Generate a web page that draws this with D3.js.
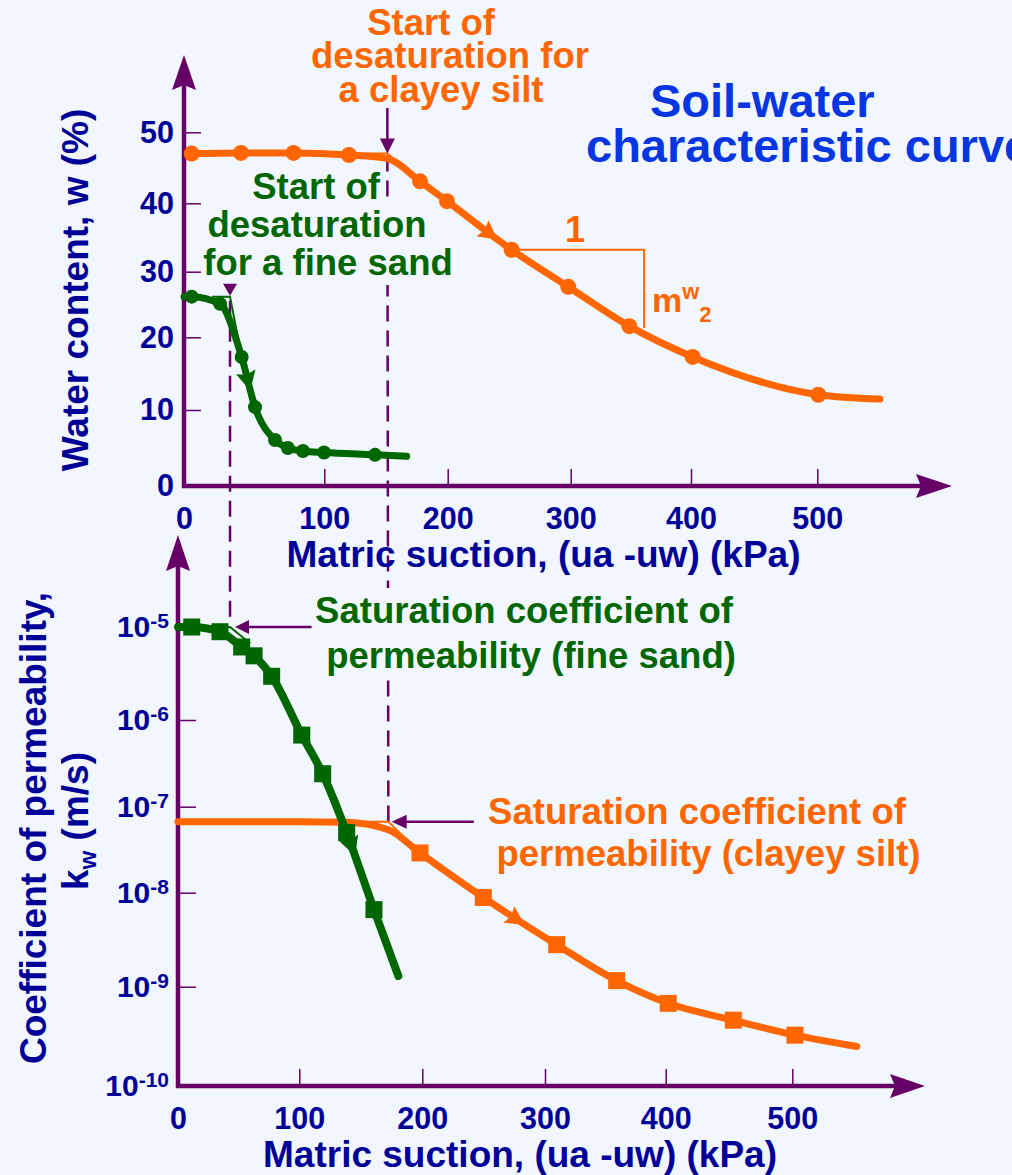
<!DOCTYPE html>
<html><head><meta charset="utf-8">
<script src="https://cdn.jsdelivr.net/npm/d3@7"></script>
<style>
html,body{margin:0;padding:0;background:#f2f6fe;}
svg{display:block;font-family:"Liberation Sans",Arial,Helvetica,sans-serif;font-weight:bold;}
</style></head><body>
<svg id="chart" width="1012" height="1175"></svg>
<script>
// ---------------- DATA ----------------
const suctionTicks = [0, 100, 200, 300, 400, 500];
const waterTicks = [0, 10, 20, 30, 40, 50];
const permExponents = [-10, -9, -8, -7, -6, -5];

// Soil-water characteristic curve, clayey silt (markers)
const siltSuction = [5.5, 40.6, 78.1, 120, 177.6, 199.4, 252, 298, 348.7, 401.3, 500.8];
const siltWater   = [47.0, 47.1, 47.1, 46.8, 43.1, 40.3, 33.2, 27.7, 21.7, 17.3, 12.1];
// clayey silt curve (line)
const siltCurveSuction = [5.5, 40.6, 78.1, 120, 151.1, 177.6, 199.4, 252, 298, 348.7, 401.3, 500.8, 549.6];
const siltCurveWater   = [47.0, 47.1, 47.1, 46.8, 46.3, 43.1, 40.3, 33.2, 27.7, 21.7, 17.3, 12.1, 11.5];

// Soil-water characteristic curve, fine sand (markers)
const sandSuction = [5.5, 25.7, 41.1, 50.6, 64.9, 74.1, 84.8, 99.8, 141.1];
const sandWater   = [26.2, 25.1, 17.3, 10.4, 6.05, 5.0, 4.6, 4.4, 4.1];
const sandCurveSuction = [0, 5.5, 25.7, 41.1, 50.6, 64.9, 74.1, 84.8, 99.8, 141.1, 166.8];
const sandCurveWater   = [26.2, 26.2, 25.1, 17.3, 10.4, 6.05, 5.0, 4.6, 4.4, 4.1, 3.9];

// Permeability, fine sand (markers)
const sandPermSuction = [11.3, 34.6, 52.5, 62.7, 77.2, 102, 119, 138.5, 160.7];
const sandPermK       = [1.0e-5, 8.9e-6, 6.1e-6, 4.9e-6, 2.95e-6, 6.7e-7, 2.4e-7, 5.0e-8, 6.6e-9];
const sandPermCurveSuction = [0, 11.3, 34.6, 52.5, 62.7, 77.2, 102, 119, 138.5, 160.7, 180.5];
const sandPermCurveK       = [1.0e-5, 1.0e-5, 8.9e-6, 6.1e-6, 4.9e-6, 2.95e-6, 6.7e-7, 2.4e-7, 5.0e-8, 6.6e-9, 1.3e-9];

// Permeability, clayey silt (markers)
const siltPermSuction = [198.1, 249.7, 309.7, 359.4, 402, 453.4, 502.1];
const siltPermK       = [2.9e-8, 8.9e-9, 2.8e-9, 1.16e-9, 6.8e-10, 4.6e-10, 3.25e-10];
const siltPermCurveSuction = [0, 100, 138.5, 172.4, 198.1, 249.7, 309.7, 359.4, 402, 453.4, 502.1, 550.9];
const siltPermCurveK       = [6.7e-8, 6.7e-8, 6.6e-8, 5.4e-8, 2.9e-8, 8.9e-9, 2.8e-9, 1.16e-9, 6.8e-10, 4.6e-10, 3.25e-10, 2.5e-10];

// Desaturation (air-entry) points
const aevTop = {sand: 32.8, silt: 151.1};      // kPa on upper plot
const satWater = {sand: 26.2, silt: 47.0};     // %
const aevBottom = {sand: 42.9, silt: 172.4};   // kPa on lower plot
const satK = {sand: 1.0e-5, silt: 6.7e-8};     // m/s
// bilinear construction lines [suction, value]
const siltWaterBilinear = [[120, 47.0], [151.1, 47.0], [177.6, 43.1]];
const sandWaterBilinear = [[20, 26.2], [32.8, 26.2], [41.1, 17.3]];
const sandPermBilinear  = [[34.6, 1.0e-5], [42.9, 1.0e-5], [59.4, 6.7e-6]];
const siltPermBilinear  = [[138.5, 6.7e-8], [172.4, 6.7e-8], [198.1, 2.9e-8]];
// slope triangle (suction from, suction to, upper w, lower w)
const slopeTriangle = [252, 361, 33.2, 21.4];
// direction arrows on curves (suction)
const dirArrowSuction = {siltW: 234.4, sandW: 45.6, sandK: 142.8, siltK: 277};
// pointer arrows on lower plot (tail suction, tip suction)
const sandPointer = [110, 47];
const siltPointer = [242, 175.1];

// ---------------- SETUP ----------------
const W = 1012, H = 1175;
const BG = '#f2f6fe', PURPLE = '#660066', ORANGE = '#ff6600', GREEN = '#006600', NAVY = '#000099', BLUE = '#0636e2';
const svg = d3.select('#chart');
svg.append('rect').attr('width', W).attr('height', H).attr('fill', BG);

const xTop = d3.scaleLinear().domain(suctionTicks).range([184, 324.3, 447.7, 570.7, 691, 817.3]);
const yTop = d3.scaleLinear().domain(waterTicks).range([486, 410, 337.3, 271.7, 203.3, 132.3]);
const xBot = d3.scaleLinear().domain(suctionTicks).range([178, 299.3, 422.3, 545, 665.7, 792.3]);
const yBot = d3.scaleLog().domain(permExponents.map(e => Math.pow(10, e))).range([1086, 986.7, 892.7, 806.7, 720, 627]);

const gDash = svg.append('g');
const gMask = svg.append('g');
const gAxes = svg.append('g');
const gThin = svg.append('g');
const gData = svg.append('g');
const gAnn = svg.append('g');
const gText = svg.append('g');

// ---------------- DASHED LINES ----------------
function dashed(x1, y1, x2, y2) {
  gDash.append('line').attr('x1', x1).attr('y1', y1).attr('x2', x2).attr('y2', y2)
    .attr('stroke', PURPLE).attr('stroke-width', 2.5).attr('stroke-dasharray', '16,9');
}
dashed(xTop(aevTop.sand), yTop(satWater.sand) + 4, xBot(aevBottom.sand), yBot(satK.sand) - 3);
dashed(xTop(aevTop.silt), yTop(satWater.silt) + 2, xBot(aevBottom.silt), yBot(satK.silt));

// ---------------- AXES ----------------
function arrowHead(g, tipX, tipY, angleDeg, len, halfW, notch) {
  g.append('path')
    .attr('d', `M0,0L${-len},${-halfW}L${-len + notch},0L${-len},${halfW}Z`)
    .attr('transform', `translate(${tipX},${tipY}) rotate(${angleDeg})`)
    .attr('fill', PURPLE);
}
function axisLine(x1, y1, x2, y2) {
  gAxes.append('line').attr('x1', x1).attr('y1', y1).attr('x2', x2).attr('y2', y2)
    .attr('stroke', PURPLE).attr('stroke-width', 4.5);
}
function styleAxis(g, size) {
  g.select('.domain').remove();
  g.attr('font-family', null).attr('font-size', null);
  g.selectAll('.tick line').attr('stroke', PURPLE).attr('stroke-width', 1.5);
  g.selectAll('.tick text').attr('fill', NAVY).attr('font-size', size).attr('font-weight', 'bold');
}

// upper plot
const topYAxis = gAxes.append('g').attr('transform', `translate(${xTop(0)},0)`)
  .call(d3.axisLeft(yTop).tickValues(waterTicks).tickSizeInner(-17).tickSizeOuter(0).tickPadding(10).tickFormat(d3.format('d')));
styleAxis(topYAxis, 30.5);
const topXAxis = gAxes.append('g').attr('transform', `translate(0,${yTop(0)})`)
  .call(d3.axisBottom(xTop).tickValues(suctionTicks).tickSizeInner(-17).tickSizeOuter(0).tickPadding(21).tickFormat(d3.format('d')));
styleAxis(topXAxis, 30.5);
axisLine(xTop(0), yTop(0) + 2, xTop(0), 80);
axisLine(xTop(0) - 2, yTop(0), 925, yTop(0));
arrowHead(gAxes, xTop(0), 55, -90, 35, 12, 5);
arrowHead(gAxes, 952, yTop(0), 0, 36, 12, 5);

// lower plot
const botYAxis = gAxes.append('g').attr('transform', `translate(${xBot(0)},0)`)
  .call(d3.axisLeft(yBot).tickValues(permExponents.map(e => Math.pow(10, e))).tickSizeInner(-18).tickSizeOuter(0).tickPadding(9).tickFormat(() => ''));
styleAxis(botYAxis, 30);
botYAxis.selectAll('.tick text').each(function (d) {
  const t = d3.select(this);
  t.text(null);
  t.append('tspan').text('10');
  t.append('tspan').attr('font-size', 21).attr('dy', -9).text(String(Math.round(Math.log10(d))));
});
const botXAxis = gAxes.append('g').attr('transform', `translate(0,${yBot(1e-10)})`)
  .call(d3.axisBottom(xBot).tickValues(suctionTicks).tickSizeInner(-17).tickSizeOuter(0).tickPadding(21).tickFormat(d3.format('d')));
styleAxis(botXAxis, 30.5);
axisLine(xBot(0), yBot(1e-10) + 2, xBot(0), 560);
axisLine(xBot(0) - 2, yBot(1e-10), 898, yBot(1e-10));
arrowHead(gAxes, xBot(0), 535, -90, 36, 12, 5);
arrowHead(gAxes, 925, yBot(1e-10), 0, 35, 12, 5);

// ---------------- THIN CONSTRUCTION LINES ----------------
function thin(pts, xs, ys, color) {
  gThin.append('path').attr('d', d3.line().x(d => xs(d[0])).y(d => ys(d[1]))(pts))
    .attr('fill', 'none').attr('stroke', color).attr('stroke-width', 2);
}
thin(siltWaterBilinear, xTop, yTop, ORANGE);
thin(sandWaterBilinear, xTop, yTop, GREEN);
thin(sandPermBilinear, xBot, yBot, GREEN);
thin(siltPermBilinear, xBot, yBot, ORANGE);
// slope triangle
gThin.append('path')
  .attr('d', `M${xTop(slopeTriangle[0])},${yTop(slopeTriangle[2])}H${xTop(slopeTriangle[1])}V${yTop(slopeTriangle[3])}`)
  .attr('fill', 'none').attr('stroke', ORANGE).attr('stroke-width', 2);

// ---------------- DATA CURVES ----------------
function curve(sx, sy, xs, ys, color, width) {
  const pts = sx.map((s, i) => [s, sy[i]]);
  return gData.append('path')
    .attr('d', d3.line().x(d => xs(d[0])).y(d => ys(d[1])).curve(d3.curveMonotoneX)(pts))
    .attr('fill', 'none').attr('stroke', color).attr('stroke-width', width)
    .attr('stroke-linecap', 'round').attr('stroke-linejoin', 'round');
}
function dirArrow(path, xPix, color, len, w) {
  const node = path.node(); const L = node.getTotalLength();
  let lo = 0, hi = L;
  for (let i = 0; i < 50; i++) { const m = (lo + hi) / 2; if (node.getPointAtLength(m).x < xPix) lo = m; else hi = m; }
  const p = node.getPointAtLength(lo), q = node.getPointAtLength(Math.min(L, lo + 4)), r = node.getPointAtLength(Math.max(0, lo - 4));
  const a = Math.atan2(q.y - r.y, q.x - r.x) * 180 / Math.PI;
  gData.append('path').attr('d', `M${len / 2},0L${-len / 2},${-w / 2}L${-len / 2 + 3},0L${-len / 2},${w / 2}Z`)
    .attr('transform', `translate(${p.x},${p.y}) rotate(${a})`).attr('fill', color);
}
const pSiltW = curve(siltCurveSuction, siltCurveWater, xTop, yTop, ORANGE, 7);
const pSandW = curve(sandCurveSuction, sandCurveWater, xTop, yTop, GREEN, 7);
const pSiltK = curve(siltPermCurveSuction, siltPermCurveK, xBot, yBot, ORANGE, 7);
const pSandK = curve(sandPermCurveSuction, sandPermCurveK, xBot, yBot, GREEN, 8);

gData.selectAll('.siltDot').data(siltSuction.map((s, i) => [s, siltWater[i]])).join('circle')
  .attr('cx', d => xTop(d[0])).attr('cy', d => yTop(d[1])).attr('r', 8).attr('fill', ORANGE);
gData.selectAll('.sandDot').data(sandSuction.map((s, i) => [s, sandWater[i]])).join('circle')
  .attr('cx', d => xTop(d[0])).attr('cy', d => yTop(d[1])).attr('r', 7).attr('fill', GREEN);
gData.selectAll('.sandSq').data(sandPermSuction.map((s, i) => [s, sandPermK[i]])).join('rect')
  .attr('x', d => xBot(d[0]) - 8.5).attr('y', d => yBot(d[1]) - 8.5).attr('width', 17).attr('height', 17).attr('fill', GREEN);
gData.selectAll('.siltSq').data(siltPermSuction.map((s, i) => [s, siltPermK[i]])).join('rect')
  .attr('x', d => xBot(d[0]) - 8.5).attr('y', d => yBot(d[1]) - 8.5).attr('width', 17).attr('height', 17).attr('fill', ORANGE);

dirArrow(pSiltW, xTop(dirArrowSuction.siltW), ORANGE, 19, 20);
dirArrow(pSandW, xTop(dirArrowSuction.sandW), GREEN, 19, 20);
dirArrow(pSandK, xBot(dirArrowSuction.sandK), GREEN, 19, 20);
dirArrow(pSiltK, xBot(dirArrowSuction.siltK), ORANGE, 19, 20);

// ---------------- ANNOTATION ARROWS ----------------
function pointer(x1, y1, x2, y2, len, halfW) {
  const a = Math.atan2(y2 - y1, x2 - x1);
  gAnn.append('line').attr('x1', x1).attr('y1', y1)
    .attr('x2', x2 - Math.cos(a) * (len - 2)).attr('y2', y2 - Math.sin(a) * (len - 2))
    .attr('stroke', PURPLE).attr('stroke-width', 2.5);
  gAnn.append('path').attr('d', `M0,0L${-len},${-halfW}L${-len},${halfW}Z`)
    .attr('transform', `translate(${x2},${y2}) rotate(${a * 180 / Math.PI})`).attr('fill', PURPLE);
}
// vertical arrow for clayey silt desaturation
pointer(xTop(aevTop.silt), 108, xTop(aevTop.silt), yTop(satWater.silt), 15, 7.5);
// small arrow head for fine sand desaturation
gAnn.append('path').attr('d', 'M0,0L-12,-7L-12,7Z')
  .attr('transform', `translate(${xTop(aevTop.sand)},${yTop(satWater.sand) - 1}) rotate(90)`).attr('fill', PURPLE);
// horizontal pointers in lower plot
pointer(xBot(sandPointer[0]), yBot(satK.sand), xBot(sandPointer[1]), yBot(satK.sand), 14, 7);
pointer(xBot(siltPointer[0]), yBot(satK.silt), xBot(siltPointer[1]), yBot(satK.silt), 15, 7);

// ---------------- TEXT ----------------
function lines(arr, color, size, mask) {
  arr.forEach(([t, x, y]) => {
    const el = gText.append('text').attr('x', x).attr('y', y).attr('text-anchor', 'middle')
      .attr('fill', color).attr('font-size', size).text(t);
    if (mask) {
      const b = el.node().getBBox();
      gMask.append('rect').attr('x', b.x - 3).attr('y', b.y - 2).attr('width', b.width + 6).attr('height', b.height + 4).attr('fill', BG);
    }
  });
}
lines([['Start of', 431, 35], ['desaturation for', 450, 68], ['a clayey silt', 441, 102]], ORANGE, 36.5, false);
lines([['Start of', 316, 198.5], ['desaturation', 317, 237], ['for a fine sand', 328, 275]], GREEN, 36.5, true);
lines([['Saturation coefficient of', 524, 623], ['permeability (fine sand)', 531, 668]], GREEN, 36.5, true);
lines([['Saturation coefficient of', 697, 824], ['permeability (clayey silt)', 708.5, 866]], ORANGE, 36.5, false);

// title
gText.append('text').attr('x', 650).attr('y', 117).attr('fill', BLUE).attr('font-size', 47).text('Soil-water');
gText.append('text').attr('x', 586).attr('y', 162).attr('fill', BLUE).attr('font-size', 47).text('characteristic curve');

// slope labels
gText.append('text').attr('x', 575).attr('y', 242).attr('text-anchor', 'middle').attr('fill', ORANGE).attr('font-size', 36).text('1');
const mw = gText.append('text').attr('x', 652).attr('y', 312).attr('fill', ORANGE).attr('font-size', 34);
mw.append('tspan').text('m');
mw.append('tspan').attr('font-size', 22).attr('dy', -13).text('w');
mw.append('tspan').attr('font-size', 22).attr('dy', 23).text('2');

// axis titles
gText.append('text').attr('x', 543.5).attr('y', 567).attr('text-anchor', 'middle').attr('fill', NAVY).attr('font-size', 37)
  .text('Matric suction, (ua -uw) (kPa)');
gText.append('text').attr('x', 520).attr('y', 1167).attr('text-anchor', 'middle').attr('fill', NAVY).attr('font-size', 37)
  .text('Matric suction, (ua -uw) (kPa)');
gText.append('text').attr('transform', 'translate(88,290) rotate(-90)').attr('text-anchor', 'middle').attr('fill', NAVY)
  .attr('font-size', 37).text('Water content, w (%)');
gText.append('text').attr('transform', 'translate(46,828) rotate(-90)').attr('text-anchor', 'middle').attr('fill', NAVY)
  .attr('font-size', 37).text('Coefficient of permeability,');
const kw = gText.append('text').attr('transform', 'translate(88,821) rotate(-90)').attr('text-anchor', 'middle').attr('fill', NAVY)
  .attr('font-size', 37);
kw.append('tspan').text('k');
kw.append('tspan').attr('font-size', 24).attr('dy', 8).text('w');
kw.append('tspan').attr('dy', -8).text(' (m/s)');
</script>
</body></html>
